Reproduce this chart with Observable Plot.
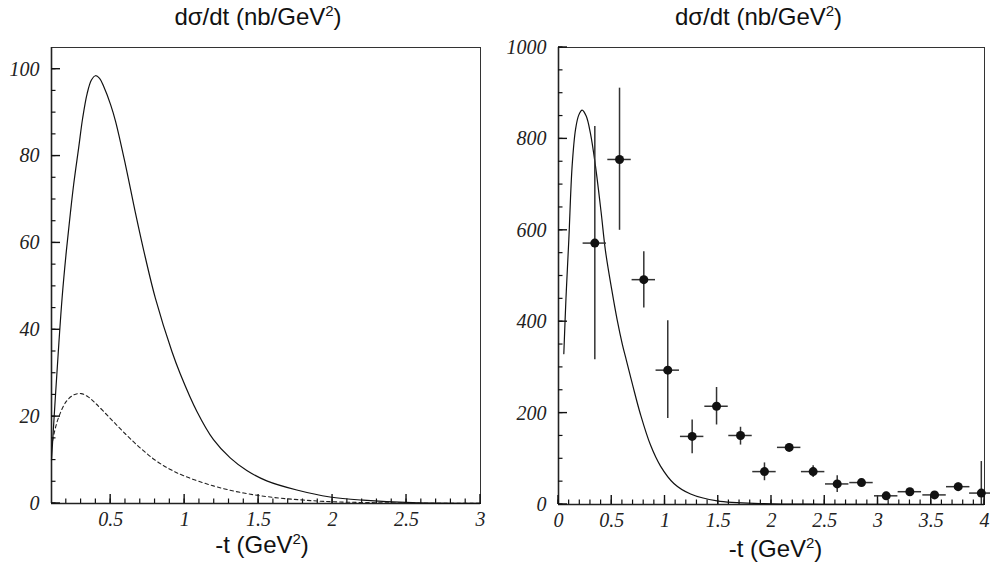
<!DOCTYPE html>
<html><head><meta charset="utf-8">
<script src="https://cdn.jsdelivr.net/npm/d3@7"></script>
<script src="https://cdn.jsdelivr.net/npm/@observablehq/plot@0.6"></script>
<style>
body{margin:0;background:#fff;}
#wrap{display:flex;width:990px;height:571px;overflow:hidden;}
</style></head><body><div id="wrap"></div>
<script>
// ---------- data ----------
const titleText = "dσ/dt (nb/GeV²)";
const xLabelText = "-t (GeV²)";

// Left panel: solid curve
const leftTSolid = [0.1,0.127,0.15,0.172,0.2,0.228,0.25,0.284,0.31,0.341,0.37,0.397,0.425,0.453,0.5,0.533,0.6,0.667,0.734,0.802,0.914,0.97,1.083,1.195,1.308,1.42,1.555,1.758,1.983,2.207,2.54,3.0];
const leftSolid  = [10,25,37,47.5,58,67,73.5,82,88.6,94.4,97.5,98.5,97.9,96.0,91.8,88.0,78.0,67.0,56.7,47.3,35.0,29.9,21.2,14.7,10.5,7.6,5.2,3.1,1.5,0.76,0.2,0.03];
// Left panel: dashed curve
const leftTDash = [0.1,0.12,0.15,0.2,0.25,0.3,0.35,0.4,0.5,0.6,0.7,0.8,0.9,1.0,1.2,1.4,1.6,1.8,2.0,2.5,3.0];
const leftDash  = [13,16.5,20,23.5,25,25.3,24.5,23,19.5,16,12.8,10,7.9,6.3,4.0,2.4,1.4,0.8,0.4,0.1,0.02];

// Right panel: model curve
const rightT     = [0.05,0.07,0.097,0.128,0.16,0.19,0.222,0.26,0.3,0.347,0.4,0.441,0.5,0.55,0.6,0.638,0.7,0.77,0.864,0.958,1.083,1.24,1.49,1.93,2.5,3,4];
const rightCurve = [330,450,580,741,821,852,863,850,812,741,640,555,470,405,350,315,258,197,130,84,46,23,8,2,0.5,0.1,0];

// Right panel: data points with errors
const ptT    = [0.341,0.573,0.801,1.026,1.255,1.484,1.709,1.934,2.166,2.391,2.617,2.845,3.077,3.299,3.531,3.753,3.97];
const ptSig  = [572,755,492,294,149,215,151,72,125,72,45,48,19,28,21,39,25];
const ptLow  = [317,600,430,188,111,174,130,52,117,59,26,41,11,20,14,31,0];
const ptHigh = [827,911,553,402,185,256,169,91,133,85,63,55,27,35,28,47,94];
const ptTErr = [0.11,0.11,0.11,0.11,0.11,0.11,0.11,0.11,0.11,0.11,0.11,0.11,0.11,0.11,0.11,0.11,0.11];

// Ticks
const leftXMajor = [0.5,1,1.5,2,2.5,3];
const leftXMinor = d3.range(2,30).map(i=>i/10);
const leftYMajor = [0,20,40,60,80,100];
const leftYMinor = d3.range(0,105,5);
const rightXMajor = [0,0.5,1,1.5,2,2.5,3,3.5,4];
const rightXMinor = d3.range(0,41).map(i=>i/10);
const rightYMajor = [0,200,400,600,800,1000];
const rightYMinor = d3.range(0,1001,50);

// ---------- helpers ----------
const fmt = d => String(d);
const tickFont = {fontFamily:"Liberation Serif", fontStyle:"italic", fontSize:20, fill:"#222"};

// inward ticks, positioned through the plot's own x / y scales
function tickMark(xMajor, xMinor, yMajor, yMinor, x0, y0){
  return (index, scales) => {
    const X = scales.x, Y = scales.y;
    const g = d3.create("svg:g").attr("stroke", "#111").attr("fill", "none");
    const yb = Y(y0), xl = X(x0);
    const addX = (vals, len, w) => vals.forEach(v => g.append("line")
      .attr("x1", X(v)).attr("x2", X(v)).attr("y1", yb).attr("y2", yb - len).attr("stroke-width", w));
    const addY = (vals, len, w) => vals.forEach(v => g.append("line")
      .attr("y1", Y(v)).attr("y2", Y(v)).attr("x1", xl).attr("x2", xl + len).attr("stroke-width", w));
    addX(xMinor, 4.5, 1.2); addX(xMajor, 9, 1.4);
    addY(yMinor, 4.5, 1.2); addY(yMajor, 9, 1.4);
    return g.node();
  };
}

function axes(xMajor, yMajor){
  return [
    Plot.axisX(xMajor, {tickSize:0, tickPadding:8, label:null, tickFormat:fmt, ...tickFont}),
    Plot.axisY(yMajor, {tickSize:0, tickPadding:12, label:null, tickFormat:fmt, ...tickFont}),
  ];
}

function superscript(svg){
  const ns = "http://www.w3.org/2000/svg";
  svg.querySelectorAll("text").forEach(t=>{
    if (t.textContent.includes("²")) {
      const [a,b] = t.textContent.split("²");
      t.textContent = "";
      const s1 = document.createElementNS(ns,"tspan"); s1.textContent = a;
      const s2 = document.createElementNS(ns,"tspan"); s2.textContent = "2";
      s2.setAttribute("dy","-9"); s2.setAttribute("font-size","15");
      const s3 = document.createElementNS(ns,"tspan"); s3.textContent = b;
      s3.setAttribute("dy","9");
      t.append(s1,s2,s3);
    }
  });
}

const labelFont = {fontFamily:"Liberation Sans", fontStyle:"normal", fontSize:24, fill:"#111", lineAnchor:"middle"};

// ---------- left panel ----------
const left = Plot.plot({
  width:495, height:571,
  marginLeft:51, marginRight:15, marginTop:47, marginBottom:68,
  style:{background:"white", overflow:"visible"},
  x:{domain:[0.1,3], label:null},
  y:{domain:[0,105], label:null},
  marks:[
    Plot.frame({stroke:"#333", strokeWidth:1}),
    Plot.ruleY([0], {stroke:"#222", strokeWidth:1.6}),
    Plot.ruleX([0.1], {stroke:"#222", strokeWidth:1.6}),
    tickMark(leftXMajor, leftXMinor, leftYMajor, leftYMinor, 0.1, 0),
    ...axes(leftXMajor, leftYMajor),
    Plot.line(leftTDash.map((t,i)=>({t, v:leftDash[i]})), {x:"t", y:"v", stroke:"#222", strokeWidth:1.1, strokeDasharray:"3.5,3", curve:"catmull-rom"}),
    Plot.line(leftTSolid.map((t,i)=>({t, v:leftSolid[i]})), {x:"t", y:"v", stroke:"#111", strokeWidth:1.2, curve:"catmull-rom"}),
    Plot.text([titleText], {frameAnchor:"top", dy:-30, dx:-8, ...labelFont}),
    Plot.text([xLabelText], {frameAnchor:"bottom", dy:42, dx:-4, ...labelFont}),
  ]
});

// ---------- right panel ----------
const pts = ptT.map((t,i)=>({t, s:ptSig[i], lo:ptLow[i], hi:ptHigh[i], e:ptTErr[i]}));
const right = Plot.plot({
  width:495, height:571,
  marginLeft:63, marginRight:6, marginTop:47, marginBottom:67,
  style:{background:"white", overflow:"visible"},
  x:{domain:[0,4], label:null},
  y:{domain:[0,1000], label:null},
  marks:[
    Plot.frame({stroke:"#333", strokeWidth:1}),
    Plot.ruleY([0], {stroke:"#222", strokeWidth:1.6}),
    Plot.ruleX([0], {stroke:"#222", strokeWidth:1.6}),
    tickMark(rightXMajor, rightXMinor, rightYMajor, rightYMinor, 0, 0),
    ...axes(rightXMajor, rightYMajor),
    Plot.line(rightT.map((t,i)=>({t, v:rightCurve[i]})), {x:"t", y:"v", stroke:"#111", strokeWidth:1.2, curve:"catmull-rom"}),
    Plot.ruleX(pts, {x:"t", y1:"lo", y2:"hi", stroke:"#333", strokeWidth:1.5}),
    Plot.ruleY(pts, {y:"s", x1:d=>d.t-d.e, x2:d=>d.t+d.e, stroke:"#333", strokeWidth:1.5}),
    Plot.dot(pts, {x:"t", y:"s", r:4.5, fill:"#111", stroke:"none"}),
    Plot.text([titleText], {frameAnchor:"top", dy:-30, dx:-13, ...labelFont}),
    Plot.text([xLabelText], {frameAnchor:"bottom", dy:45, dx:4, ...labelFont}),
  ]
});

superscript(left); superscript(right);
document.getElementById("wrap").append(left, right);
</script>
</body></html>
